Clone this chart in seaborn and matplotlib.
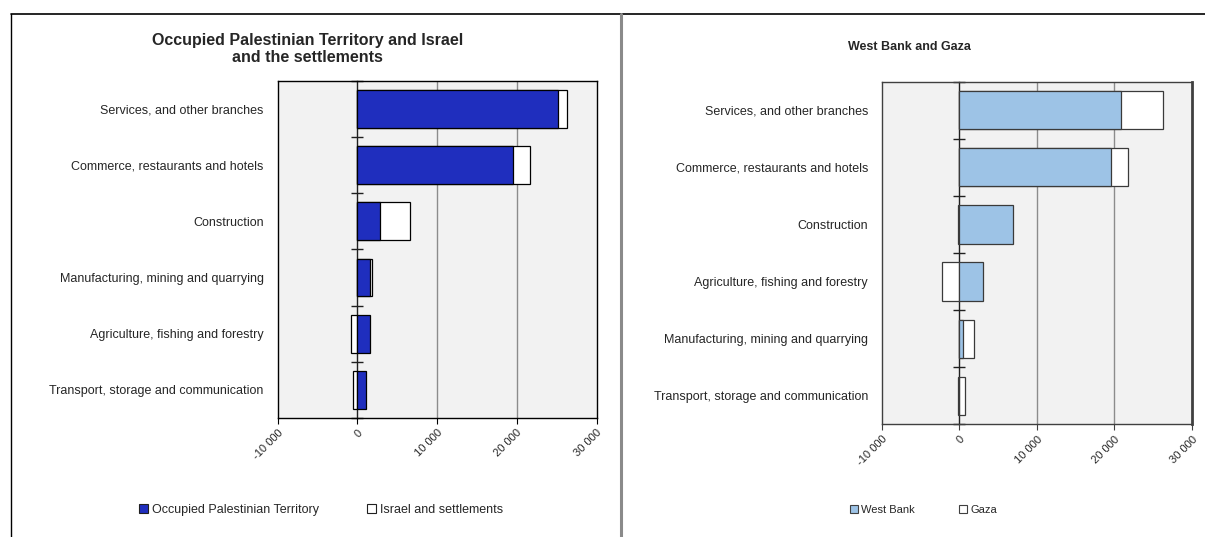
import matplotlib
matplotlib.use("Agg")
import matplotlib.pyplot as plt
from matplotlib.lines import Line2D
from matplotlib.patches import Patch
import numpy as np
import pandas as pd
import seaborn as sns

# ---- data -------------------------------------------------------------
sectors_total = [
    "Services, and other branches",
    "Commerce, restaurants and hotels",
    "Construction",
    "Manufacturing, mining and quarrying",
    "Agriculture, fishing and forestry",
    "Transport, storage and communication",
]
opt_values = [25200, 19500, 2800, 1600, 1600, 1100]
israel_values = [1100, 2100, 3800, 300, -800, -550]

sectors_regions = [
    "Services, and other branches",
    "Commerce, restaurants and hotels",
    "Construction",
    "Agriculture, fishing and forestry",
    "Manufacturing, mining and quarrying",
    "Transport, storage and communication",
]
west_bank_values = [20900, 19500, 6900, 3100, 450, -150]
gaza_values = [5400, 2200, -150, -2200, 1450, 700]

x_ticks = [-10000, 0, 10000, 20000, 30000]
x_tick_labels = ["-10 000", "0", "10 000", "20 000", "30 000"]

titles = ["Occupied Palestinian Territory and Israel\nand the settlements",
          "West Bank and Gaza"]
legend_labels = [["Occupied Palestinian Territory", "Israel and settlements"],
                 ["West Bank", "Gaza"]]

# ---- style ------------------------------------------------------------
sns.set_theme(style="white")
plt.rcParams["font.family"] = ["Liberation Sans", "DejaVu Sans"]

W, H = 1205, 537
fig = plt.figure(figsize=(W / 100, H / 100), dpi=100)
fig.patch.set_facecolor("white")


def fx(px):
    return px / W


def fy(py):
    return 1 - py / H


def stacked_outer(first, second):
    """End point of the second series when stacked onto the first
    (positives stack on positives, negatives on negatives)."""
    out = []
    for a, b in zip(first, second):
        base = max(a, 0) if b >= 0 else min(a, 0)
        out.append(base + b)
    return out


def draw_panel(ax, sectors, first, second, color, edge, spine_color):
    df = pd.DataFrame({
        "sector": sectors,
        "first": first,
        "outer": stacked_outer(first, second),
    })
    sns.barplot(data=df, x="outer", y="sector", order=sectors, orient="h",
                color="white", saturation=1, edgecolor=edge, linewidth=0.9,
                width=0.67, ax=ax)
    sns.barplot(data=df, x="first", y="sector", order=sectors, orient="h",
                color=color, saturation=1, edgecolor=edge, linewidth=0.9,
                width=0.67, ax=ax)
    ax.set_facecolor("#F2F2F2")
    ax.set_xlim(-10000, 30000)
    ax.set_ylim(5.5, -0.5)
    ax.set_xlabel("")
    ax.set_ylabel("")
    for v in (10000, 20000):
        ax.axvline(v, color="#8C8C8C", lw=1.0, zorder=0)
    ax.set_xticks(x_ticks)
    ax.set_xticklabels(x_tick_labels, rotation=45, ha="right", va="top",
                       rotation_mode="anchor", fontsize=8)
    ax.tick_params(axis="x", bottom=True, length=4, width=0.8,
                   color=spine_color, pad=3)
    ax.tick_params(axis="y", left=False, length=0, pad=10, labelsize=9)
    for s in ax.spines.values():
        s.set_visible(True)
        s.set_color(spine_color)
        s.set_linewidth(1.0)
    # category axis crossing at zero, with ticks between categories
    frac = (0 - (-10000)) / 40000
    sec = ax.secondary_yaxis(frac)
    sec.set_yticks(np.arange(-0.5, 6.0, 1.0))
    sec.set_yticklabels([])
    sec.tick_params(axis="y", direction="inout", length=8, width=1.0,
                    color="#202020")
    sec.spines["left"].set_color("#202020")
    sec.spines["left"].set_linewidth(1.0)


# left panel
ax1 = fig.add_axes([fx(277.5), fy(418), fx(596.5) - fx(277.5), fy(80.7) - fy(418)])
draw_panel(ax1, sectors_total, opt_values, israel_values,
           "#1F2EBE", "black", "black")

# right panel
ax2 = fig.add_axes([fx(881.8), fy(424.3), fx(1192) - fx(881.8), fy(81.7) - fy(424.3)])
draw_panel(ax2, sectors_regions, west_bank_values, gaza_values,
           "#9DC3E6", "#3A3A3A", "#404040")
ax2.spines["right"].set_linewidth(2.0)

# titles
fig.text(fx(307.5), fy(49), titles[0], ha="center", va="center",
         fontsize=11.5, fontweight="bold", linespacing=1.1)
fig.text(fx(909), fy(47), titles[1], ha="center", va="center",
         fontsize=9, fontweight="bold")

# legends
h1 = [Patch(facecolor="#1F2EBE", edgecolor="#202020", lw=0.8),
      Patch(facecolor="white", edgecolor="#202020", lw=0.8)]
fig.legend(h1, legend_labels[0], loc="center left",
           bbox_to_anchor=(fx(139), fy(510)), ncol=2, frameon=False,
           fontsize=9, handlelength=0.7, handleheight=0.7,
           handletextpad=0.3, columnspacing=3.9, borderpad=0,
           borderaxespad=0)
h2 = [Patch(facecolor="#9DC3E6", edgecolor="#404040", lw=0.8),
      Patch(facecolor="white", edgecolor="#404040", lw=0.8)]
fig.legend(h2, legend_labels[1], loc="center left",
           bbox_to_anchor=(fx(850), fy(510)), ncol=2, frameon=False,
           fontsize=8, handlelength=0.7, handleheight=0.7,
           handletextpad=0.3, columnspacing=4.0, borderpad=0,
           borderaxespad=0)

# panel frames
fig.add_artist(Line2D([fx(11), 1.0], [fy(13.5), fy(13.5)],
                      transform=fig.transFigure, color="black", lw=1.2))
fig.add_artist(Line2D([fx(11), fx(11)], [fy(13.5), 0.0],
                      transform=fig.transFigure, color="black", lw=1.0))
fig.add_artist(Line2D([fx(621), fx(621)], [fy(13.5), 0.0],
                      transform=fig.transFigure, color="#8A8A8A", lw=2.2))

fig.savefig("out.png", dpi=100, facecolor="white")
